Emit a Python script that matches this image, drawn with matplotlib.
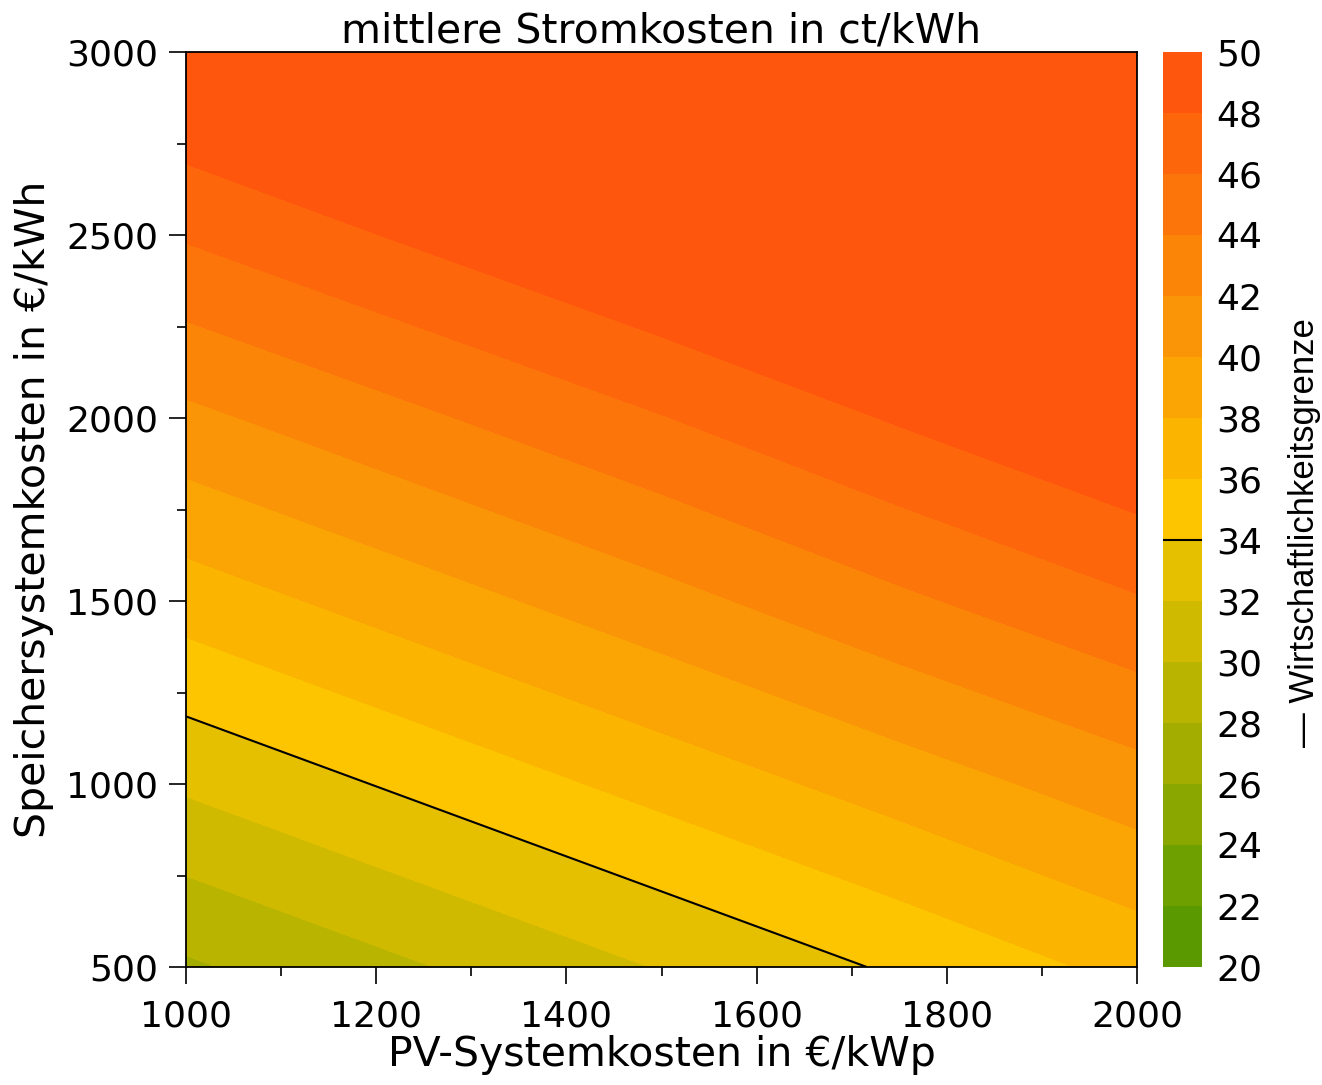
import numpy as np
import matplotlib
matplotlib.use("Agg")
import matplotlib.pyplot as plt
from matplotlib.colors import ListedColormap, BoundaryNorm
from matplotlib.cm import ScalarMappable
from matplotlib.ticker import MultipleLocator

plt.rcParams['font.family'] = ['DejaVu Sans']

# Data
pv_cost = [1000, 1250, 1500, 1750, 2000]            # €/kWp
storage_cost = [500, 1000, 1500, 2000, 2500, 3000]  # €/kWh
mean_cost = [                                       # ct/kWh, rows = storage_cost
    [27.7, 29.9, 32.1, 34.3, 36.6],
    [32.3, 34.5, 36.7, 38.9, 41.1],
    [36.9, 39.1, 41.3, 43.6, 45.8],
    [41.5, 43.7, 45.9, 48.2, 50.4],
    [46.2, 48.4, 50.6, 52.8, 55.0],
    [50.8, 53.0, 55.2, 57.4, 59.6],
]
levels = list(range(20, 52, 2))
band_colors = ['#5a9a00', '#6ea000', '#8aa700', '#a3ad00', '#b9b400',
               '#cfba00', '#e5c000', '#fdc400', '#fbb400', '#fba505',
               '#fa9508', '#fb8507', '#fc750a', '#fd660b', '#fe560d']
threshold = 34

X, Y = np.meshgrid(pv_cost, storage_cost)
Z = np.array(mean_cost)

cmap = ListedColormap(band_colors)
norm = BoundaryNorm(levels, cmap.N)

W, H = 1322, 1085
fig = plt.figure(figsize=(W / 100, H / 100), dpi=100)
ax = fig.add_axes([186 / W, 1 - 967 / H, (1137 - 186) / W, (967 - 52) / H])
cax = fig.add_axes([1163 / W, 1 - 967 / H, (1202 - 1163) / W, (967 - 52) / H])

# top band absorbs everything above 48 (as in the reference)
fill_levels = levels[:-1] + [max(levels[-1], Z.max()) + 1]
cs = ax.contourf(X, Y, Z, levels=fill_levels, colors=band_colors)
cs.set_edgecolor('face')
cs.set_linewidth(0.6)
ax.contour(X, Y, Z, levels=[threshold], colors='black', linewidths=1.5)

ax.set_xlim(1000, 2000)
ax.set_ylim(500, 3000)
ax.xaxis.set_major_locator(MultipleLocator(200))
ax.xaxis.set_minor_locator(MultipleLocator(100))
ax.yaxis.set_major_locator(MultipleLocator(500))
ax.yaxis.set_minor_locator(MultipleLocator(250))
ax.tick_params(which='both', direction='out', top=False, right=False, width=1.2, labelsize=26)
ax.tick_params(which='major', length=12)
ax.tick_params(which='minor', length=6.5)
ax.tick_params(axis='x', which='major', pad=11.5)
ax.tick_params(axis='y', which='major', pad=8)
for s in ax.spines.values():
    s.set_linewidth(1.3)
    s.set_zorder(5)

ax.set_title('mittlere Stromkosten in ct/kWh', fontsize=29.5, pad=1)
ax.set_xlabel('PV-Systemkosten in €/kWp', fontsize=29.5, labelpad=1)
ax.set_ylabel('Speichersystemkosten in €/kWh', fontsize=29.5, labelpad=9)

sm = ScalarMappable(norm=norm, cmap=cmap)
cb = fig.colorbar(sm, cax=cax, ticks=levels, extend='neither')
cb.outline.set_visible(False)
cax.tick_params(length=0, pad=10, labelsize=26)
cax.axhline(threshold, color='black', linewidth=1.5)
cb.set_label('— Wirtschaftlichkeitsgrenze', fontsize=25,
             family=['Liberation Sans', 'DejaVu Sans'], labelpad=19)
cax.yaxis.label.set_y(0.475)

fig.savefig('out.png', dpi=100)
